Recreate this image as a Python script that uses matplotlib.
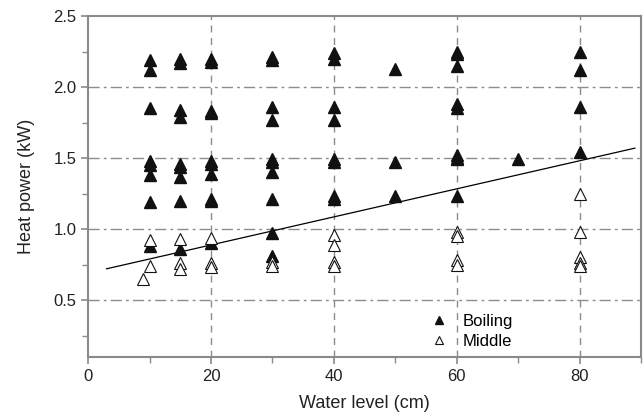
import matplotlib
matplotlib.use("Agg")
import matplotlib.pyplot as plt
from matplotlib.ticker import MultipleLocator

plt.rcParams['font.family'] = ['Liberation Sans', 'DejaVu Sans']

boil_x = [10, 10, 10, 10, 10, 10, 10, 10,
          15, 15, 15, 15, 15, 15, 15, 15, 15,
          20, 20, 20, 20, 20, 20, 20, 20, 20, 20,
          30, 30, 30, 30, 30, 30, 30, 30, 30, 30,
          40, 40, 40, 40, 40, 40, 40, 40,
          50, 50, 50,
          60, 60, 60, 60, 60, 60, 60, 60, 60,
          70,
          80, 80, 80, 80]
boil_y = [2.19, 2.12, 1.85, 1.48, 1.45, 1.38, 1.19, 0.88,
          2.20, 2.17, 1.84, 1.79, 1.46, 1.44, 1.37, 1.20, 0.86,
          2.20, 2.18, 1.83, 1.82, 1.48, 1.46, 1.39, 1.21, 1.20, 0.90,
          2.21, 2.19, 1.86, 1.77, 1.49, 1.47, 1.40, 1.21, 0.97, 0.81,
          2.24, 2.20, 1.86, 1.77, 1.49, 1.47, 1.23, 1.21,
          2.13, 1.47, 1.23,
          2.25, 2.23, 2.15, 1.88, 1.85, 1.52, 1.50, 1.49, 1.23,
          1.49,
          2.25, 2.12, 1.86, 1.54]

mid_x = [9, 10, 10, 15, 15, 15, 20, 20, 20, 30, 30,
         40, 40, 40, 40, 60, 60, 60, 60, 80, 80, 80, 80, 80]
mid_y = [0.65, 0.92, 0.74, 0.93, 0.76, 0.72, 0.94, 0.76, 0.73, 0.77, 0.74,
         0.96, 0.89, 0.77, 0.74, 0.98, 0.95, 0.78, 0.75, 1.25, 0.98, 0.80, 0.76, 0.74]

fit_x = [3, 89]
fit_y = [0.72, 1.57]

fig = plt.figure(figsize=(6.43, 4.13), dpi=100)
ax = fig.add_axes([0.137, 0.136, 0.860, 0.825])

grid_c = '#8c8c8c'
for xv in [20, 40, 60, 80]:
    ax.axvline(xv, color=grid_c, lw=1.0, ls=(0, (5, 4)), zorder=0)
for yv in [0.5, 1.0, 1.5, 2.0]:
    ax.axhline(yv, color=grid_c, lw=1.0, ls=(0, (8, 3, 2, 3)), zorder=0)

ax.plot(fit_x, fit_y, color='black', lw=0.9, zorder=2)
ax.plot(boil_x, boil_y, ls='none', marker='^', ms=8, mfc='#111111', mec='#111111',
        label='Boiling', zorder=3)
ax.plot(mid_x, mid_y, ls='none', marker='^', ms=8, mfc='white', mec='#111111', mew=0.8,
        label='Middle', zorder=3)

ax.set_xlim(0, 90)
ax.set_ylim(0.1, 2.5)
ax.xaxis.set_major_locator(MultipleLocator(20))
ax.xaxis.set_minor_locator(MultipleLocator(10))
ax.yaxis.set_major_locator(MultipleLocator(0.5))
ax.yaxis.set_minor_locator(MultipleLocator(0.25))
ax.set_yticks([0.5, 1.0, 1.5, 2.0, 2.5])
ax.set_yticklabels(['0.5', '1.0', '1.5', '2.0', '2.5'])

for s in ax.spines.values():
    s.set_color('#8a8a8a')
    s.set_linewidth(1.5)
ax.tick_params(which='both', direction='out', color='#8a8a8a', labelsize=12,
               labelcolor='#222222')
ax.tick_params(which='major', length=5, width=1.2)
ax.tick_params(which='minor', length=4, width=1.0)

ax.set_xlabel('Water level (cm)', fontsize=13, color='#222222', labelpad=8)
ax.set_ylabel('Heat power (kW)', fontsize=13, color='#222222', labelpad=13)

ax.legend(loc='lower left', bbox_to_anchor=(0.59, -0.02), frameon=False, fontsize=12,
          handletextpad=0.8, labelspacing=0.3, handlelength=1.2, markerscale=0.7)

fig.savefig('out.png', dpi=100)
